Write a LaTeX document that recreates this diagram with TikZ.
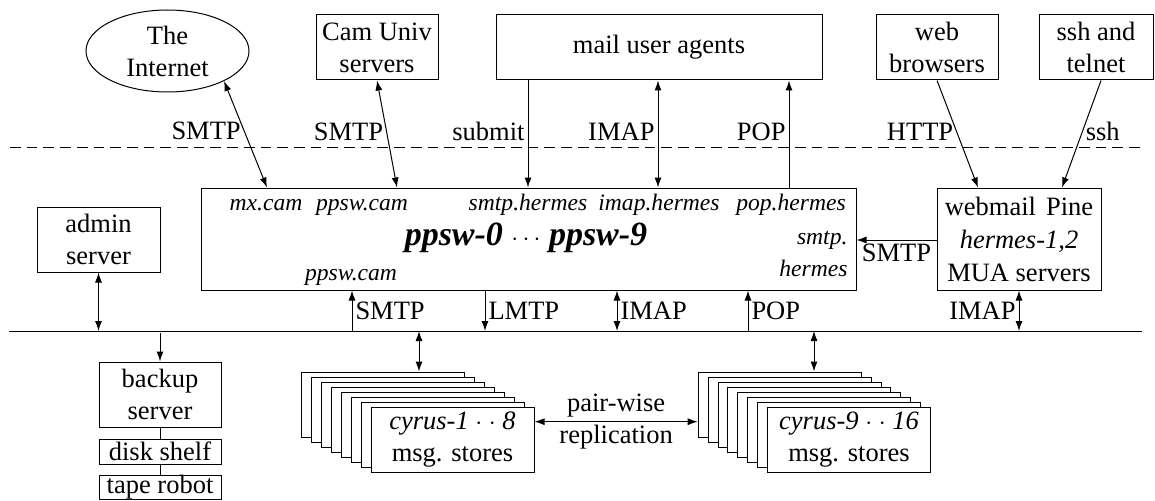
\documentclass[tikz,border=0pt]{standalone}
\usepackage{fontspec}
\setmainfont{Liberation Serif}
\usetikzlibrary{calc}
\usetikzlibrary{shapes.geometric}
\usetikzlibrary{arrows.meta}
\tikzset{
	% Boxes for the hosts and an ellipse for the outside world
	host node/.style={draw,rectangle,inner sep=0pt,align=center},
	cloud node/.style={draw,ellipse,inner sep=0pt,align=center,minimum width=163,minimum height=82},
	% small italic host names, and protocol labels beside the links
	name label/.style={font=\fontsize{23.6}{30}\selectfont\itshape,inner sep=0pt},
	proto/.style={inner sep=3pt}
}

\begin{document}
\begin{tikzpicture}[x=1pt,y=-1pt,line width=1pt,>={Latex[length=10pt,width=7pt]},font=\fontsize{26.5}{32}\selectfont]
			% macro for a stack of eight message stores
			\newcommand{\storestack}[3]{%
				\foreach \k in {7,6,...,1}
					\node(#1-\k)[host node,fill=white,minimum width=163,minimum height=65] at ($(#2)+(-9.9*\k,-5*\k)$){};
				\node(#1-0)[host node,fill=white,minimum width=163,minimum height=65] at (#2){#3};
			}
			\useasboundingbox (0,0) rectangle (1155,500);

			% outside world
			\node(net)[cloud node] at (167.5,51){The\\Internet};
			\node(cam)[host node,minimum width=122,minimum height=65] at (377,47.5){Cam Univ\\servers};
			\node(mua)[host node,minimum width=326,minimum height=65] at (659,47.5){mail user agents};
			\node(web)[host node,minimum width=122,minimum height=65] at (937,47.5){web\\browsers};
			\node(ssh)[host node,minimum width=114,minimum height=65] at (1096,47.5){ssh and\\telnet};

			\coordinate(dash-w) at (10,147);
			\coordinate(dash-e) at (1142,147);
			\draw[dash pattern=on 10.7pt off 6pt] (dash-w) -- (dash-e);

			% ppsw cluster and hermes
			\node(ppsw)[host node,minimum width=655,minimum height=102] at (528.5,239){};
			\node(ppsw-range)[anchor=base,inner sep=0pt,font=\fontsize{34}{40}\selectfont\bfseries\itshape] at (526,245){ppsw-0 $\cdots$ ppsw-9};
			\node(n-mx)[name label,anchor=base] at (266,210){mx.cam};
			\node(n-ppswcam)[name label,anchor=base] at (362,210){ppsw.cam};
			\node(n-smtp)[name label,anchor=base] at (528,210){smtp.hermes};
			\node(n-imap)[name label,anchor=base] at (659,210){imap.hermes};
			\node(n-pop)[name label,anchor=base] at (791,210){pop.hermes};
			\node(n-relay)[name label,anchor=base] at (351,280){ppsw.cam};
			\node(n-relay-a)[name label,anchor=base east] at (848,244){smtp.};
			\node(n-relay-b)[name label,anchor=base east] at (848,276){hermes};
			\node(webmail)[host node,minimum width=164,minimum height=102,font=\fontsize{26.5}{33}\selectfont] at (1019,239){webmail\hspace{0.38em}Pine\\\textit{hermes-1,2}\\MUA servers};

			% other servers
			\node(admin)[host node,minimum width=123,minimum height=65] at (98.5,239.5){admin\\server};
			\node(backup)[host node,minimum width=122,minimum height=65] at (160,394.5){backup\\server};
			\node(disk)[host node,minimum width=122,minimum height=25] at (160,451.5){disk shelf};
			\node(tape)[host node,minimum width=122,minimum height=24] at (160,487.5){tape robot};
			\storestack{st1}{452.5,439.5}{\textit{cyrus-1} $\cdot$ $\cdot$ \textit{8}\\msg. stores}
			\storestack{st2}{849,439.5}{\textit{cyrus-9} $\cdot$ $\cdot$ \textit{16}\\msg. stores}

			% columns and rows of the links
			\coordinate(col-mx) at (267,0);
			\coordinate(col-cam) at (397,0);
			\coordinate(col-submit) at (528,0);
			\coordinate(col-imap) at (658,0);
			\coordinate(col-pop) at (789,0);
			\coordinate(col-web) at (978,0);
			\coordinate(col-ssh-a) at (1101,0);
			\coordinate(col-ssh-b) at (1062,0);
			\coordinate(col-relay) at (352,0);
			\coordinate(col-lmtp) at (485,0);
			\coordinate(col-store) at (617,0);
			\coordinate(col-pop3) at (748,0);
			\coordinate(col-st1) at (419,0);
			\coordinate(col-st2) at (814,0);
			\coordinate(row-smtp) at (0,240);
			\coordinate(row-repl) at (0,421.7);
			\coordinate(bus-w) at (9,331);
			\coordinate(bus-e) at (1142,331);
			\draw (bus-w) -- (bus-e);

			% links across the dashed line
			\draw[<->] (net.-28) -- (ppsw.north -| col-mx) node[pos=0.47,left,proto](l-net){SMTP};
			\draw[<->] (cam.south) -- (ppsw.north -| col-cam) node[pos=0.48,left,proto](l-cam){SMTP};
			\draw[->] (mua.south -| col-submit) -- (ppsw.north -| col-submit) node[pos=0.48,left,proto](l-submit){submit};
			\draw[<->] (mua.south -| col-imap) -- (ppsw.north -| col-imap) node[pos=0.48,left,proto](l-imap){IMAP};
			\draw[<-] (mua.south -| col-pop) -- (ppsw.north -| col-pop) node[pos=0.48,left,proto](l-pop){POP};
			\draw[->] (web.south) -- (webmail.north -| col-web) node[pos=0.48,left,proto](l-http){HTTP};
			\draw[->] (ssh.south -| col-ssh-a) -- (webmail.north -| col-ssh-b) node[pos=0.48,right,proto](l-ssh){ssh};
			\draw[->] (webmail.west |- row-smtp) -- (ppsw.east |- row-smtp) node[midway,below,proto](l-mua){SMTP};

			% links to the bus
			\draw[<-] (ppsw.south -| col-relay) -- (bus-w -| col-relay) node[midway,right,proto](l-relay){SMTP};
			\draw[->] (ppsw.south -| col-lmtp) -- (bus-w -| col-lmtp) node[midway,right,proto](l-lmtp){LMTP};
			\draw[<->] (ppsw.south -| col-store) -- (bus-w -| col-store) node[midway,right,proto](l-store){IMAP};
			\draw[<-] (ppsw.south -| col-pop3) -- (bus-w -| col-pop3) node[midway,right,proto](l-pop3){POP};
			\draw[<->] (webmail.south) -- (bus-w -| webmail.south) node[midway,left,proto](l-hermes){IMAP};
			\draw[<->] (admin.south) -- (bus-w -| admin.south);
			\draw[->,shorten <=2pt] (bus-w -| backup.north) -- (backup.north);
			\draw (backup.south) -- (disk.north) (disk.south) -- (tape.north);
			\draw[<->] (bus-w -| col-st1) -- (st1-7.north -| col-st1);
			\draw[<->] (bus-w -| col-st2) -- (st2-7.north -| col-st2);
			\draw[<->] (st1-0.east |- row-repl) -- (st2-7.west |- row-repl) node[midway,align=center](l-repl){pair-wise\\replication};
		\end{tikzpicture}
\end{document}
